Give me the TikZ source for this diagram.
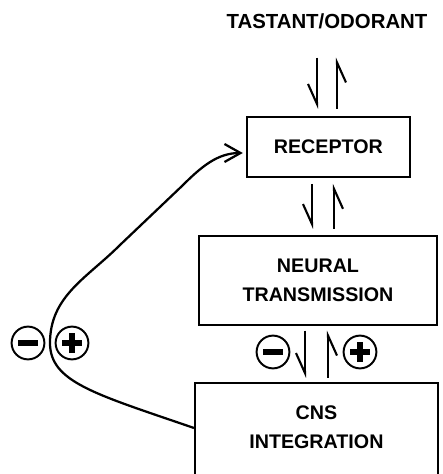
\documentclass[tikz,border=0pt]{standalone}
\usepackage{fontspec}
\setmainfont{Liberation Sans}
\usetikzlibrary{arrows.meta,calc}

\begin{document}
\begin{tikzpicture}[
  box/.style={draw,line width=1.3pt,align=center,font=\bfseries\fontsize{14}{21}\selectfont},
  harp/.style={line width=1.5pt,-{Straight Barb[right,length=0.5cm,width=0.45cm]}},
  sign/.style={circle,draw,line width=1.4pt,minimum size=0.82cm,inner sep=0pt},
  negsign/.style={sign,path picture={
    \draw[line width=3.8pt] ([xshift=-0.25cm]path picture bounding box.center) -- ([xshift=0.25cm]path picture bounding box.center);}},
  possign/.style={sign,path picture={
    \draw[line width=3.6pt] ([xshift=-0.25cm]path picture bounding box.center) -- ([xshift=0.25cm]path picture bounding box.center);
    \draw[line width=3.6pt] ([yshift=-0.25cm]path picture bounding box.center) -- ([yshift=0.25cm]path picture bounding box.center);}}
]
\useasboundingbox (0,0) rectangle (11.075,11.85);
\clip (0,0) rectangle (11.075,11.85);
% stimulus and the three stages
\node[font=\bfseries\fontsize{14.5}{16}\selectfont] (taste) at (8.175,11.325) {TASTANT/ODORANT};
\node[box,minimum width=4.075cm,minimum height=1.5cm] (receptor) at (8.21,8.175) {RECEPTOR};
\node[box,minimum width=5.95cm,minimum height=2.225cm] (neural) at (7.95,4.84) {NEURAL\\TRANSMISSION};
\node[box,minimum width=6.075cm,minimum height=3cm,anchor=north] (cns) at (7.91,2.3) {};
\node[align=center,font=\bfseries\fontsize{14}{21}\selectfont] (cnslabel) at ($(cns.north)+(0,-1.125)$) {CNS\\INTEGRATION};
% two-way arrows between the stages
\draw[harp,shorten <=0.6cm,shorten >=0.18cm] ([xshift=-0.25cm]taste.south) -- ([xshift=-0.25cm]taste.south |- receptor.north);
\draw[harp,shorten <=0.18cm,shorten >=0.6cm] ([xshift=0.25cm]taste.south |- receptor.north) -- ([xshift=0.25cm]taste.south);
\draw[harp,shorten <=0.15cm,shorten >=0.15cm] ([xshift=-0.41cm]receptor.south) -- ([xshift=-0.41cm]receptor.south |- neural.north);
\draw[harp,shorten <=0.15cm,shorten >=0.15cm] ([xshift=0.14cm]receptor.south |- neural.north) -- ([xshift=0.14cm]receptor.south);
\draw[harp,shorten <=0.12cm,shorten >=0.1cm] ([xshift=-0.325cm]neural.south) -- ([xshift=-0.325cm]neural.south |- cns.north);
\draw[harp,shorten <=0.1cm,shorten >=0.12cm] ([xshift=0.25cm]neural.south |- cns.north) -- ([xshift=0.25cm]neural.south);
\node[negsign] (nminus) at (6.825,3.05) {};
\node[possign] (nplus) at (9.0,3.05) {};
% feedback loop from CNS back to the receptor
\draw[line width=1.6pt,-{Straight Barb[length=0.4cm,width=0.45cm]},shorten >=0.08cm]
  ([yshift=-1.15cm]cns.north west) to[out=161,in=-90,out looseness=1.6,in looseness=0.6] (1.25,3.275)
  to[out=90,in=225] (3.0,5.725) -- (4.55,7.2) to[out=45,in=180] ([yshift=-0.15cm]receptor.west);
\node[negsign] (fminus) at (0.7,3.275) {};
\node[possign] (fplus) at (1.8,3.275) {};
\end{tikzpicture}
\end{document}
